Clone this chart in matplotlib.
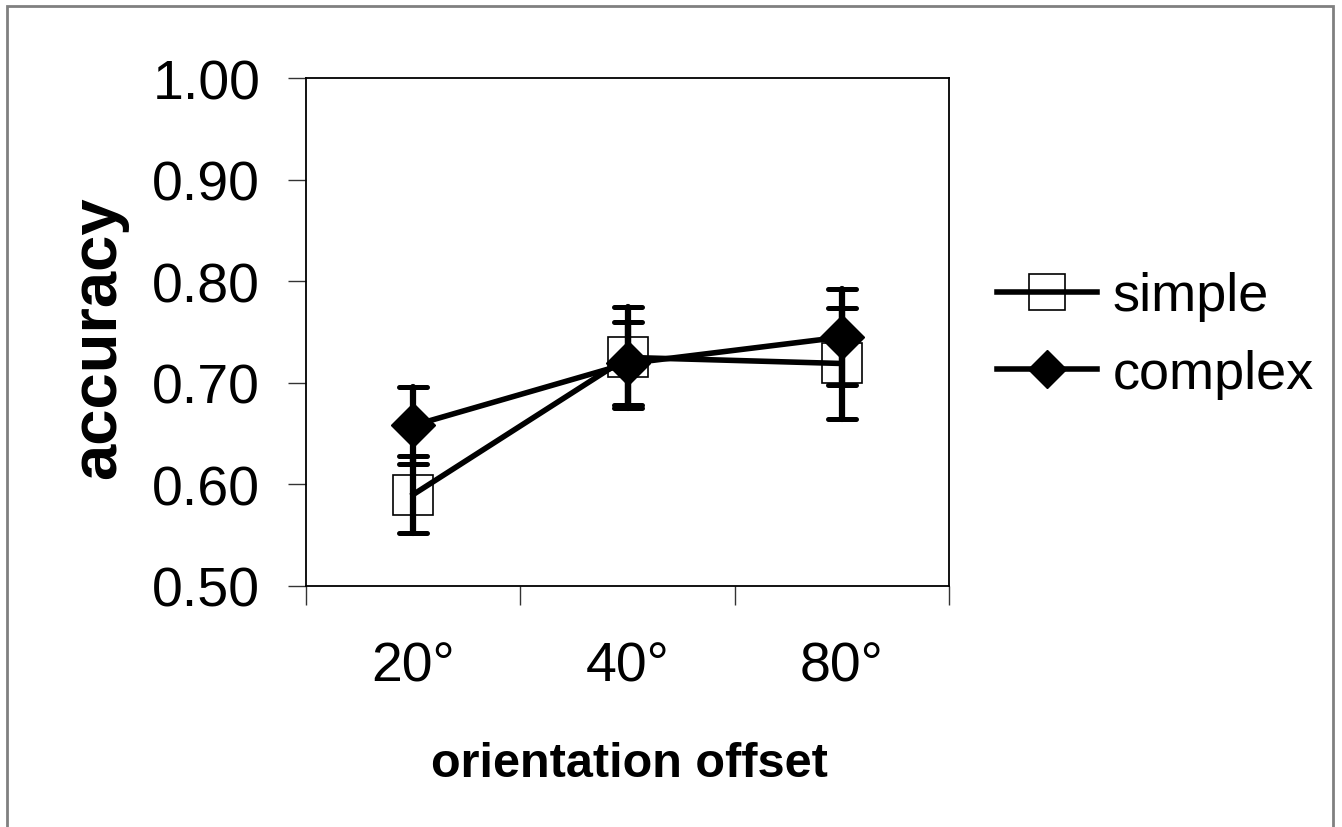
import matplotlib
matplotlib.use("Agg")
import matplotlib.pyplot as plt
from matplotlib.markers import MarkerStyle
from matplotlib.patches import Rectangle

plt.rcParams['font.family'] = ['Liberation Sans', 'DejaVu Sans']

# values
offsets = ['20°', '40°', '80°']
simple_acc = [0.590, 0.725, 0.719]
simple_err = [0.038, 0.050, 0.055]
complex_acc = [0.658, 0.719, 0.745]
complex_err = [0.038, 0.041, 0.047]
yticks = [0.50, 0.60, 0.70, 0.80, 0.90, 1.00]

W, H = 1342, 828
fig = plt.figure(figsize=(W/100, H/100), dpi=100)
ax = fig.add_axes([306/W, (H-587)/H, (949-306)/W, (587-79)/H])

x = list(range(1, len(offsets)+1))

def bars(vals, errs, z):
    eb = ax.errorbar(x, vals, yerr=errs, fmt='none', ecolor='black',
                     elinewidth=4.5, capsize=10, capthick=3.6, zorder=z)
    for cl in eb[1]:
        cl.set_marker(MarkerStyle('_', capstyle='round'))
    for lc in eb[2]:
        lc.set_capstyle('round')

# simple series (open squares)
ax.plot(x, simple_acc, color='black', lw=4, marker='s', ms=29.5,
        mfc='none', mec='black', mew=1.2, label='simple', zorder=3)
bars(simple_acc, simple_err, 4)

# complex series (filled diamonds)
bars(complex_acc, complex_err, 5)
ax.plot(x, complex_acc, color='black', lw=4, marker='D', ms=22,
        mfc='black', mec='black', mew=1, label='complex', zorder=6)

ax.set_xlim(0.5, len(offsets)+0.5)
ax.set_ylim(0.5, 1.0)
ax.set_yticks(yticks)
ax.set_yticklabels([f"{v:.2f}" for v in yticks], fontsize=40)
ax.tick_params(axis='y', direction='out', length=13, width=1, pad=20, color='#333333')

ax.set_xticks(x)
ax.set_xticklabels(offsets, fontsize=40)
ax.set_xticks([i + 0.5 for i in range(len(offsets)+1)], minor=True)
ax.tick_params(axis='x', which='major', length=0, pad=39)
ax.tick_params(axis='x', which='minor', direction='out', length=14, width=1, color='#333333')

for s in ax.spines.values():
    s.set_linewidth(1.3)
    s.set_color('black')

fig.text(629/W, (H-777)/H, 'orientation offset', fontsize=35, fontweight='bold',
         ha='center', va='baseline')
fig.text(98/W, (H-338)/H, 'accuracy', fontsize=47, fontweight='bold',
         rotation=90, ha='center', va='center')

ax.legend(loc='center left', bbox_to_anchor=(997/W, (H-336)/H),
          bbox_transform=fig.transFigure, frameon=False, fontsize=39,
          handlelength=1.85, handletextpad=0.28, labelspacing=0.5,
          borderpad=0, borderaxespad=0, markerscale=0.9)

# outer frame around the whole chart
fig.patches.append(Rectangle((7/W, -0.05), (1333-7)/W, (H-7)/H + 0.05,
                             transform=fig.transFigure, fill=False,
                             edgecolor='#808080', lw=2))

fig.savefig('out.png', dpi=100)
